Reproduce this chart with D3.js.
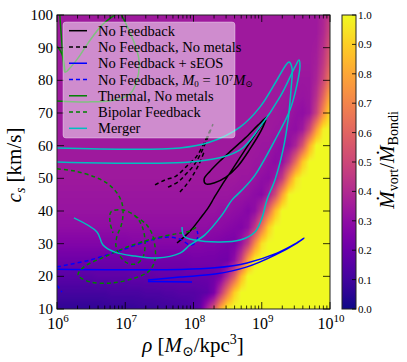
<!DOCTYPE html>
<html>
<head>
<meta charset="utf-8">
<script src="https://cdn.jsdelivr.net/npm/d3@7"></script>
<style>
body { margin: 0; background: #fff; }
text { font-family: "Liberation Serif", "DejaVu Serif", serif; fill: #000; }
</style>
</head>
<body>
<svg id="chart" width="407" height="362"></svg>
<script>
// ---- data ----
var rhoTicks = [1e6, 1e7, 1e8, 1e9, 1e10];
var csTicks = [10, 20, 30, 40, 50, 60, 70, 80, 90, 100];
var cbarTicks = [0.0, 0.1, 0.2, 0.3, 0.4, 0.5, 0.6, 0.7, 0.8, 0.9, 1.0];

// background map of Mdot_vort / Mdot_Bondi (percent)
// rows = cs (km/s), cols = log10(rho) from 6.0 to 10.0 by 0.1
var gridLogRho = [6.0, 6.1, 6.2, 6.3, 6.4, 6.5, 6.6, 6.7, 6.8, 6.9,
  7.0, 7.1, 7.2, 7.3, 7.4, 7.5, 7.6, 7.7, 7.8, 7.9,
  8.0, 8.1, 8.2, 8.3, 8.4, 8.5, 8.6, 8.7, 8.8, 8.9,
  9.0, 9.1, 9.2, 9.3, 9.4, 9.5, 9.6, 9.7, 9.8, 9.9, 10.0];
var gridCs = [10, 15, 20, 25, 30, 35, 40, 45, 50, 55, 60, 65, 70, 75, 80, 85, 90, 95, 100];
var gridRatio = [
  [6,6,6,6,6,6,6,7,7,7, 7,7,8,8,8,9,9,10,10,11, 13,18,38,55,82,98,100,100,100,100, 100,100,100,100,100,100,100,100,100,100, 100],
  [11,11,11,11,11,11,11,11,12,12, 12,12,12,13,13,13,14,14,15,15, 15,16,17,24,45,68,90,100,100,100, 100,100,100,100,100,100,100,100,100,100, 100],
  [16,16,16,16,16,16,17,17,17,17, 17,18,18,18,18,19,19,19,19,20, 20,20,20,21,25,40,58,84,100,100, 100,100,100,100,100,100,100,100,100,100, 100],
  [21,21,21,21,21,21,21,21,21,21, 21,22,22,22,22,22,22,22,22,22, 23,23,23,23,22,22,30,48,78,98, 100,100,100,100,100,100,100,100,100,100, 100],
  [26,26,26,26,26,26,26,26,26,26, 26,27,27,27,27,27,27,27,27,27, 27,27,26,26,25,24,24,32,46,72, 94,100,100,100,100,100,100,100,100,100, 100],
  [30,30,30,30,30,30,30,30,30,30, 30,30,30,30,30,30,30,30,30,30, 30,30,30,29,29,28,27,26,30,44, 66,90,100,100,100,100,100,100,100,100, 100],
  [32,32,32,32,32,32,32,32,32,32, 32,32,32,32,32,32,32,32,32,32, 32,32,32,32,31,31,30,29,27,30, 42,62,86,100,100,100,100,100,100,100, 100],
  [33,33,33,33,33,33,33,33,33,33, 33,33,33,33,33,33,33,33,33,33, 33,33,33,33,33,33,32,32,31,29, 28,35,52,78,99,100,100,100,100,100, 100],
  [34,34,34,34,34,34,34,34,34,34, 34,34,34,34,34,34,34,34,34,34, 34,34,34,34,34,34,34,33,33,32, 30,29,33,46,72,94,100,100,100,100, 100],
  [34,34,34,34,34,34,34,34,34,34, 34,34,34,34,34,34,34,34,34,34, 34,34,34,34,34,34,34,34,34,33, 33,31,29,31,43,64,88,100,100,100, 100],
  [34,34,34,34,34,34,34,34,34,34, 34,34,34,34,34,34,34,34,34,34, 34,34,34,34,34,34,34,34,34,34, 33,33,31,29,30,38,55,82,100,100, 100],
  [34,34,34,34,34,34,34,34,34,34, 34,34,34,34,34,34,34,34,34,34, 34,34,34,34,34,34,34,34,34,34, 34,34,33,33,31,30,34,50,76,97, 100],
  [34,34,34,34,34,34,34,34,34,34, 34,34,34,34,34,34,34,34,34,34, 34,34,34,34,34,34,34,34,34,34, 34,34,34,33,33,31,30,33,48,72, 94],
  [34,34,34,34,34,34,34,34,34,34, 34,34,34,34,34,34,34,34,34,34, 34,34,34,34,34,34,34,34,34,34, 34,34,34,34,33,33,32,33,42,60, 82],
  [34,34,34,34,34,34,34,34,34,34, 34,34,34,34,34,34,34,34,34,34, 34,34,34,34,34,34,34,34,34,34, 34,34,34,34,34,33,33,33,38,50, 68],
  [34,34,34,34,34,34,34,34,34,34, 34,34,34,34,34,34,34,34,34,34, 34,34,34,34,34,34,34,34,34,34, 34,34,34,34,34,34,34,34,36,45, 60],
  [34,34,34,34,34,34,34,34,34,34, 34,34,34,34,34,34,34,34,34,34, 34,34,34,34,34,34,34,34,34,34, 34,34,34,34,34,34,34,34,35,42, 55],
  [34,34,34,34,34,34,34,34,34,34, 34,34,34,34,34,34,34,34,34,34, 34,34,34,34,34,34,34,34,34,34, 34,34,34,34,34,34,34,34,34,39, 50],
  [34,34,34,34,34,34,34,34,34,34, 34,34,34,34,34,34,34,34,34,34, 34,34,34,34,34,34,34,34,34,34, 34,34,34,34,34,34,34,34,34,38, 46]
];

// trajectories, [rho (Msun/kpc^3), cs (km/s)]
var noFeedback = [[5.73e7,30.2],[7.5e7,32.3],[9.5e7,34.5],[1.24e8,37.6],[1.63e8,40.9],[2.0e8,44.0],[2.62e8,48.0],
  [3.67e8,52.6],[5.69e8,58.7],[8.5e8,64.2],[1.19e9,68.8],[8.81e8,66.3],[5.69e8,62.3],[3.67e8,58.7],[2.44e8,55.3],
  [1.75e8,52.2],[1.43e8,49.8],[1.52e8,48.3],[2.0e8,48.6],[2.99e8,50.4],[4.49e8,53.8],[6.73e8,59.0],[9.75e8,64.5],[1.15e9,67.9]];

var noMetalsA = [[2.73e7,48.0],[3.82e7,49.5],[5.54e7,50.7],[8.3e7,54.1],[1.09e8,56.5],[1.43e8,60.8],[1.75e8,64.8]];
var noMetalsB = [[4.23e7,47.3],[5.93e7,48.9],[7.76e7,51.3],[1.02e8,54.1],[1.29e8,57.8],[1.58e8,62.0],[1.93e8,66.6]];
var noMetalsC = [[6.34e7,45.8],[8.04e7,48.3],[9.84e7,51.0],[1.21e8,54.4],[1.43e8,58.1]];

var sEOS = [[1e6,22.2],[6.34e7,22.1],[2.07e8,22.6],[6.08e8,24.1],[1.67e9,27.1],[3.07e9,29.9],[4.16e9,31.7],
  [3.28e9,30.2],[1.56e9,26.5],[6.08e8,22.9],[2.07e8,20.7],[6.34e7,19.8],[2.15e7,18.9]];
var sEOSb = [[2.15e7,18.4],[9.5e7,18.3]];

var m0 = [[1e6,22.9],[3.05e6,25.0],[8.96e6,28.1],[2.15e7,30.8],[3.95e7,32.0],[6.34e7,31.4],[8.9e7,29.6],
  [1.05e8,30.2],[1.16e8,32.3],[1.13e8,33.9]];
var m0b = [[1.0e6,17.3],[1.18e6,15.2]];

var thermalA = [[1e6,73.7],[2.85e6,73.4],[7.08e6,74.0],[1.17e7,75.8],[1.49e7,80.1],[1.59e7,86.2],[1.39e7,90.8],
  [1.1e7,96.0],[8.37e6,100.9],[7.31e6,103.4]];
var thermalB = [[1.07e6,103.4],[1.14e6,95.4],[1.22e6,87.8],[1.31e6,82.5],[1.55e6,83.8],[2.03e6,86.8],[2.85e6,91.4],
  [4.56e6,96.9],[7.31e6,100.3],[1.03e7,102.8]];
var thermalC = [[1e6,90.5],[1.18e6,88.1],[1.31e6,82.5]];

var bipolarA = [[1e6,52.9],[1.84e6,52.2],[3.6e6,50.4],[5.58e6,48.3],[7.57e6,45.5],[8.96e6,42.4],[9.27e6,38.8],
  [8.67e6,35.4],[7.57e6,32.3],[7.31e6,29.3],[8.37e6,26.2],[1.06e7,24.1],[1.44e7,23.8],[1.82e7,25.9],[1.95e7,30.5],
  [1.76e7,35.4],[1.39e7,38.5],[9.27e6,40.3],[6.18e6,39.7],[5.98e6,36.6],[6.62e6,33.3]];
var bipolarB = [[1.39e7,38.5],[2.01e7,36.0],[2.47e7,33.0],[2.73e7,29.0],[2.73e7,25.0],[2.23e7,21.6],[1.39e7,19.5],
  [6.39e6,18.0],[3.05e6,18.3],[2.03e6,20.4],[2.49e6,22.9],[4.89e6,25.9],[1.17e7,29.3],[2.73e7,31.7],[5.54e7,33.0],
  [8.9e7,33.9],[1.16e8,35.4]];

var mergerA = [[1e6,59.3],[6.34e7,59.3],[1.75e8,61.1],[4.8e8,65.7],[9.4e8,71.8],[1.67e9,80.1],[2.26e9,84.7],
  [2.51e9,85.6],[2.77e9,83.8],[2.68e9,77.0],[2.43e9,67.9],[2.05e9,58.7],[1.56e9,49.5],[1.19e9,43.4],[1.01e9,37.9],
  [7.96e8,33.6],[4.8e8,31.1],[2.44e8,30.5],[1.05e8,31.1],[7.26e7,32.3],[6.79e7,35.1]];
var mergerB = [[1e6,55.0],[1.24e8,55.3],[4.8e8,58.7],[9.4e8,65.7],[1.85e9,74.9],[3.07e9,84.1],[3.51e9,86.2],
  [3.63e9,84.4],[3.28e9,78.6],[2.59e9,70.9],[1.56e9,61.7],[7.96e8,51.0],[5.14e8,46.4],[3.67e8,43.4],[2.62e8,38.8],
  [1.47e8,32.7],[8.9e7,29.6],[6.34e7,27.1],[2.92e7,25.6],[1.39e7,26.2],[7.08e6,27.4],[4.72e6,29.6],[3.85e6,33.6],[1.77e6,37.9]];

var series = [
  {name: "No Feedback", color: "#000000", dash: null, paths: [noFeedback]},
  {name: "No Feedback, No metals", color: "#000000", dash: "4,3", paths: [noMetalsA, noMetalsB, noMetalsC]},
  {name: "No Feedback + sEOS", color: "#0000ff", dash: null, paths: [sEOS, sEOSb]},
  {name: "m0", color: "#0000ff", dash: "4,3", paths: [m0, m0b]},
  {name: "Thermal, No metals", color: "#008000", dash: null, paths: [thermalA, thermalB, thermalC]},
  {name: "Bipolar Feedback", color: "#008000", dash: "4,3", paths: [bipolarA, bipolarB]},
  {name: "Merger", color: "#00bfbf", dash: null, paths: [mergerA, mergerB]}
];

// ---- chart ----
var svg = d3.select("#chart");

var x = d3.scaleLog().domain([1e6, 1e10]).range([57, 330]);
var y = d3.scaleLinear().domain([10, 100]).range([309, 15]);
var cb = d3.scaleLinear().domain([0, 1]).range([309, 15]);

var x0 = x.range()[0], x1 = x.range()[1], y0 = y.range()[1], y1 = y.range()[0];

// heat map, bilinear in value like imshow
(function() {
  var pw = Math.round(x1 - x0), ph = Math.round(y1 - y0);
  var canvas = document.createElement("canvas");
  canvas.width = pw; canvas.height = ph;
  var ctx = canvas.getContext("2d");
  var img = ctx.createImageData(pw, ph);
  function idx(arr, v) {
    var i = d3.bisectRight(arr, v) - 1;
    i = Math.max(0, Math.min(arr.length - 2, i));
    var t = (v - arr[i]) / (arr[i + 1] - arr[i]);
    return [i, Math.max(0, Math.min(1, t))];
  }
  for (var py = 0; py < ph; py++) {
    var cs = y.invert(y0 + py + 0.5);
    var r = idx(gridCs, cs);
    for (var px = 0; px < pw; px++) {
      var l = Math.log10(x.invert(x0 + px + 0.5));
      var c = idx(gridLogRho, l);
      var a = gridRatio[r[0]][c[0]] * (1 - c[1]) + gridRatio[r[0]][c[0] + 1] * c[1];
      var b = gridRatio[r[0] + 1][c[0]] * (1 - c[1]) + gridRatio[r[0] + 1][c[0] + 1] * c[1];
      var v = (a * (1 - r[1]) + b * r[1]) / 100;
      var col = d3.rgb(d3.interpolatePlasma(Math.max(0, Math.min(1, v))));
      var k = (py * pw + px) * 4;
      img.data[k] = col.r; img.data[k + 1] = col.g; img.data[k + 2] = col.b; img.data[k + 3] = 255;
    }
  }
  ctx.putImageData(img, 0, 0);
  svg.append("image")
    .attr("x", x0).attr("y", y0)
    .attr("width", pw).attr("height", ph)
    .attr("preserveAspectRatio", "none")
    .attr("href", canvas.toDataURL());
})();

svg.append("clipPath").attr("id", "plotclip")
  .append("rect").attr("x", x0).attr("y", y0).attr("width", x1 - x0).attr("height", y1 - y0);

var line = d3.line()
  .x(function(d) { return x(d[0]); })
  .y(function(d) { return y(d[1]); })
  .curve(d3.curveCatmullRom.alpha(0.5));

var lines = svg.append("g").attr("clip-path", "url(#plotclip)");
series.forEach(function(s) {
  lines.selectAll(null)
    .data(s.paths)
    .enter().append("path")
    .attr("d", line)
    .attr("fill", "none")
    .attr("stroke", s.color)
    .attr("stroke-width", 1.5)
    .attr("stroke-dasharray", s.dash);
});

// frame + ticks
var axes = svg.append("g");
axes.append("rect")
  .attr("x", x0).attr("y", y0).attr("width", x1 - x0).attr("height", y1 - y0)
  .attr("fill", "none").attr("stroke", "#222").attr("stroke-width", 1);

var xAll = x.ticks();
axes.selectAll(".xt")
  .data(xAll)
  .enter().append("path")
  .attr("d", function(d) {
    var major = Math.abs(Math.log10(d) - Math.round(Math.log10(d))) < 1e-9;
    var len = major ? 7 : 3.5;
    var px = x(d);
    return "M" + px + "," + y1 + "v" + (-len) + "M" + px + "," + y0 + "v" + len;
  })
  .attr("stroke", "#000").attr("stroke-width", 0.8);

axes.selectAll(".yt")
  .data(csTicks)
  .enter().append("path")
  .attr("d", function(d) { return "M" + x0 + "," + y(d) + "h7M" + x1 + "," + y(d) + "h-7"; })
  .attr("stroke", "#000").attr("stroke-width", 0.8);

axes.selectAll(".yl")
  .data(csTicks)
  .enter().append("text")
  .attr("x", x0 - 4).attr("y", function(d) { return y(d) + 5; })
  .attr("text-anchor", "end")
  .attr("font-size", 15)
  .text(function(d) { return d; });

var xl = axes.selectAll(".xl")
  .data(rhoTicks)
  .enter().append("text")
  .attr("x", function(d) { return x(d) + 1; })
  .attr("y", y1 + 20)
  .attr("text-anchor", "middle")
  .attr("font-size", 16);
xl.append("tspan").text("10");
xl.append("tspan").attr("font-size", 11).attr("dy", -7)
  .text(function(d) { return Math.round(Math.log10(d)); });

// axis labels
var xlab = svg.append("text")
  .attr("x", 193).attr("y", 352)
  .attr("text-anchor", "middle").attr("font-size", 21);
xlab.append("tspan").attr("font-style", "italic").text("ρ");
xlab.append("tspan").text(" [");
xlab.append("tspan").attr("font-style", "italic").text("M");
xlab.append("tspan").attr("font-size", 14).attr("dy", 4).text("⊙");
xlab.append("tspan").attr("dy", -4).text("/kpc");
xlab.append("tspan").attr("font-size", 14).attr("dy", -8).text("3");
xlab.append("tspan").attr("dy", 8).text("]");

var ylab = svg.append("text")
  .attr("transform", "translate(21,165) rotate(-90)")
  .attr("text-anchor", "middle").attr("font-size", 21);
ylab.append("tspan").attr("font-style", "italic").text("c");
ylab.append("tspan").attr("font-style", "italic").attr("font-size", 14).attr("dy", 4).text("s");
ylab.append("tspan").attr("dy", -4).text(" [km/s]");

// colorbar
var cbx = 342, cbw = 14;
var grad = svg.append("defs").append("linearGradient")
  .attr("id", "plasma").attr("x1", 0).attr("y1", 1).attr("x2", 0).attr("y2", 0);
grad.selectAll("stop")
  .data(d3.range(0, 1.0001, 0.05))
  .enter().append("stop")
  .attr("offset", function(d) { return d; })
  .attr("stop-color", function(d) { return d3.interpolatePlasma(d); });
svg.append("rect")
  .attr("x", cbx).attr("y", cb(1)).attr("width", cbw).attr("height", cb(0) - cb(1))
  .attr("fill", "url(#plasma)").attr("stroke", "#222").attr("stroke-width", 1);
svg.selectAll(".cbt")
  .data(cbarTicks)
  .enter().append("path")
  .attr("d", function(d) { return "M" + (cbx + cbw) + "," + cb(d) + "h-4"; })
  .attr("stroke", "#000").attr("stroke-width", 0.8);
svg.selectAll(".cbl")
  .data(cbarTicks)
  .enter().append("text")
  .attr("x", cbx + cbw + 2).attr("y", function(d) { return cb(d) + 4; })
  .attr("font-size", 11).attr("fill", "#333")
  .text(function(d) { return d.toFixed(1); });

var cblab = svg.append("text")
  .attr("transform", "translate(394,160) rotate(-90)")
  .attr("text-anchor", "middle").attr("font-size", 21);
cblab.append("tspan").attr("font-style", "italic").text("Ṁ");
cblab.append("tspan").attr("font-size", 14).attr("dy", 4).text("vort");
cblab.append("tspan").attr("dy", -4).text("/");
cblab.append("tspan").attr("font-style", "italic").text("Ṁ");
cblab.append("tspan").attr("font-size", 14).attr("dy", 4).text("Bondi");

// legend
var lg = svg.append("g");
lg.append("rect")
  .attr("x", 63).attr("y", 22).attr("width", 172).attr("height", 116).attr("rx", 3)
  .attr("fill", "#fff").attr("fill-opacity", 0.5)
  .attr("stroke", "#fff").attr("stroke-opacity", 0.35);
var rows = lg.selectAll(".row")
  .data(series)
  .enter().append("g")
  .attr("transform", function(d, i) { return "translate(0," + (30.7 + i * 16.27) + ")"; });
rows.append("line")
  .attr("x1", 69).attr("x2", 87).attr("y1", 0).attr("y2", 0)
  .attr("stroke", function(d) { return d.color; })
  .attr("stroke-width", 1.5)
  .attr("stroke-dasharray", function(d) { return d.dash; });
rows.each(function(d) {
  var t = d3.select(this).append("text").attr("x", 98).attr("y", 5).attr("font-size", 14.5);
  if (d.name === "m0") {
    t.append("tspan").text("No Feedback, ");
    t.append("tspan").attr("font-style", "italic").text("M");
    t.append("tspan").attr("font-size", 9).attr("dy", 2).text("0");
    t.append("tspan").attr("dy", -2).text(" = 10");
    t.append("tspan").attr("font-size", 9).attr("dy", -4).text("7");
    t.append("tspan").attr("font-style", "italic").attr("dy", 4).text("M");
    t.append("tspan").attr("font-size", 9).attr("dy", 2).text("⊙");
  } else {
    t.text(d.name);
  }
});
</script>
</body>
</html>
